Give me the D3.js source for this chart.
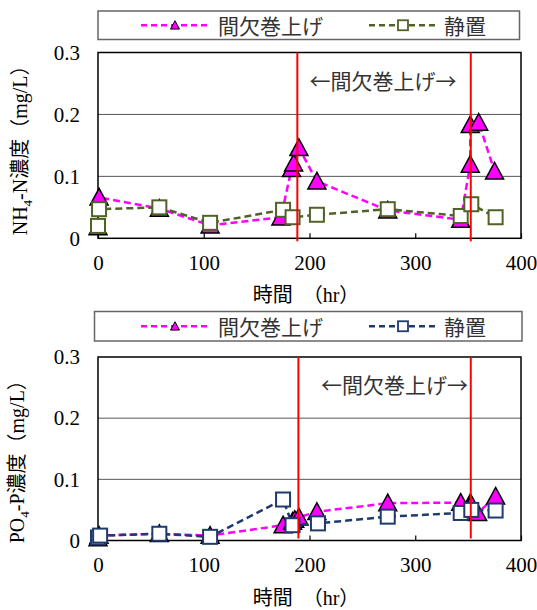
<!DOCTYPE html>
<html lang="ja">
<head>
<meta charset="UTF-8">
<title>NH4-N / PO4-P</title>
<style>
    body { margin: 0; background: #fff; }
    svg { display: block; }
</style>
<script src="https://d3js.org/d3.v7.min.js"></script>
</head>
<body>
<div id="chart"></div>
<script>
// x ticks / y ticks
const xTicks = [0, 100, 200, 300, 400];
const yTicks = [0, 0.1, 0.2, 0.3];

// series names
const seriesNames = ["間欠巻上げ", "静置"];

// NH4-N: [hr, mg/L]
const nhIntermittent = [[0, 0.018], [1, 0.066], [58, 0.048], [106, 0.021], [173, 0.034], [183, 0.112],
    [185, 0.121], [190, 0.146], [207, 0.092], [274, 0.045], [343, 0.030], [352, 0.119],
    [352, 0.183], [360, 0.187], [375, 0.108]];
const nhStill = [[0, 0.020], [1, 0.047], [58, 0.050], [106, 0.025], [175, 0.046], [184, 0.034],
    [207, 0.038], [274, 0.047], [343, 0.036], [353, 0.055], [376, 0.034]];

// PO4-P: [hr, mg/L]
const poIntermittent = [[0, 0.004], [1, 0.008], [58, 0.011], [106, 0.008], [175, 0.025], [184, 0.031],
    [186, 0.034], [190, 0.038], [207, 0.047], [274, 0.061], [343, 0.062], [352, 0.061],
    [353, 0.059], [359, 0.045], [376, 0.072]];
const poStill = [[0, 0.005], [2, 0.008], [58, 0.011], [106, 0.006], [175, 0.067], [184, 0.025],
    [208, 0.028], [274, 0.039], [343, 0.045], [353, 0.050], [376, 0.049]];

// start / end of intermittent winding (hr)
const windingNh = [188.5, 352.5];
const windingPo = [189.5, 352.5];

const SERIF = '"Liberation Serif", "Noto Sans CJK JP", serif';
const GOTHIC = '"Noto Sans CJK JP", sans-serif';

const width = 537, height = 610;
const svg = d3.select("#chart").append("svg")
    .attr("width", width).attr("height", height);

const triPath = s => `M0,${-s}L${s},${s * 0.85}L${-s},${s * 0.85}Z`;

function drawChart(cfg) {
    const g = svg.append("g");
    const x = d3.scaleLinear().domain([0, 400]).range([98, 521]);
    const y = d3.scaleLinear().domain([0, 0.3]).range([cfg.bottom, cfg.top]);

    // legend
    const lg = g.append("g");
    lg.append("rect")
        .attr("x", cfg.legend.x0).attr("y", cfg.legend.y0)
        .attr("width", cfg.legend.x1 - cfg.legend.x0).attr("height", cfg.legend.y1 - cfg.legend.y0)
        .attr("fill", "#fff").attr("stroke", "#666").attr("stroke-width", 1.5);
    const ly = (cfg.legend.y0 + cfg.legend.y1) / 2;
    const items = [
        { x0: 141, x1: 209, m: 175, tx: 218, color: "#ff00ff", name: seriesNames[0], tri: true },
        { x0: 369, x1: 436, m: 403, tx: 444, color: cfg.stillColor, name: seriesNames[1], tri: false }
    ];
    items.forEach(it => {
        lg.append("line").attr("x1", it.x0).attr("x2", it.x1).attr("y1", ly).attr("y2", ly)
            .attr("stroke", it.color).attr("stroke-width", 2.5).attr("stroke-dasharray", "6,4");
        if (it.tri) {
            lg.append("path").attr("d", triPath(4.5))
                .attr("transform", `translate(${it.m},${ly})`)
                .attr("fill", "#ff00ff").attr("stroke", "#000").attr("stroke-width", 1);
        } else {
            lg.append("rect").attr("x", it.m - 5).attr("y", ly - 5).attr("width", 10).attr("height", 10)
                .attr("fill", "#fff").attr("stroke", it.color).attr("stroke-width", 1.8);
        }
        lg.append("text").attr("x", it.tx).attr("y", ly)
            .attr("dominant-baseline", "central")
            .style("font-family", GOTHIC).style("font-size", "21px").style("fill", "#333")
            .text(it.name);
    });

    // gridlines
    g.append("g").selectAll("line").data(yTicks.filter(d => d > 0 && d < 0.3)).join("line")
        .attr("x1", x(0)).attr("x2", x(400)).attr("y1", d => y(d)).attr("y2", d => y(d))
        .attr("stroke", "#555").attr("stroke-width", 1);

    // axes
    const yAxis = g.append("g").attr("transform", `translate(${x(0)},0)`)
        .call(d3.axisLeft(y).tickValues(yTicks).tickFormat(d => d === 0 ? "0" : d.toFixed(1))
            .tickSize(0).tickPadding(18));
    yAxis.select(".domain").remove();
    const xAxis = g.append("g").attr("transform", `translate(0,${y(0)})`)
        .call(d3.axisBottom(x).tickValues(xTicks).tickSizeInner(-5).tickSizeOuter(0).tickPadding(17));
    xAxis.select(".domain").remove();
    xAxis.selectAll(".tick line").attr("stroke", "#000").attr("stroke-width", 1.2);
    [yAxis, xAxis].forEach(a => {
        a.attr("font-family", SERIF).attr("font-size", 21);
        a.selectAll("text").style("font-family", SERIF).style("font-size", "21px").style("fill", "#000");
    });

    // plot frame
    g.append("rect").attr("x", x(0)).attr("y", y(0.3))
        .attr("width", x(400) - x(0)).attr("height", y(0) - y(0.3))
        .attr("fill", "none").attr("stroke", "#000").attr("stroke-width", 1.5);

    // series lines
    const line = d3.line().x(d => x(d[0])).y(d => y(d[1]));
    g.append("path").datum(cfg.intermittent).attr("d", line)
        .attr("fill", "none").attr("stroke", "#ff00ff").attr("stroke-width", 2.5)
        .attr("stroke-dasharray", "7,4");
    g.selectAll(".tri").data(cfg.intermittent).join("path").attr("class", "tri")
        .attr("d", triPath(9))
        .attr("transform", d => `translate(${x(d[0])},${y(d[1])})`)
        .attr("fill", "#ff00ff").attr("stroke", "#000").attr("stroke-width", 1.5);

    g.append("path").datum(cfg.still).attr("d", line)
        .attr("fill", "none").attr("stroke", cfg.stillColor).attr("stroke-width", 2.5)
        .attr("stroke-dasharray", "7,4");
    g.selectAll(".sq").data(cfg.still).join("rect").attr("class", "sq")
        .attr("x", d => x(d[0]) - 7).attr("y", d => y(d[1]) - 7)
        .attr("width", 14).attr("height", 14)
        .attr("fill", "#fff").attr("stroke", cfg.stillColor).attr("stroke-width", 2);

    // winding markers
    g.selectAll(".wind").data(cfg.winding).join("line").attr("class", "wind")
        .attr("x1", d => x(d)).attr("x2", d => x(d))
        .attr("y1", y(0.3)).attr("y2", y(0) + cfg.redExtra)
        .attr("stroke", "#ff0000").attr("stroke-width", 2);

    g.append("text")
        .attr("x", (x(cfg.winding[0]) + x(cfg.winding[1])) / 2 + cfg.noteShift).attr("y", cfg.top + 27)
        .attr("text-anchor", "middle").attr("dominant-baseline", "central")
        .style("font-family", GOTHIC).style("font-size", "21px").style("fill", "#333")
        .text("←" + seriesNames[0] + "→");

    // axis titles
    g.append("text")
        .attr("x", 306).attr("y", y(0) + 64).attr("text-anchor", "middle")
        .style("font-family", SERIF).style("font-size", "20px").style("fill", "#000")
        .text("時間　（hr）");
    const yt = g.append("text")
        .attr("transform", `translate(${cfg.titleX},${(cfg.top + cfg.bottom) / 2 + cfg.titleShift}) rotate(-90)`)
        .attr("text-anchor", "middle")
        .style("font-family", SERIF).style("font-size", "20px").style("fill", "#000");
    yt.append("tspan").text(cfg.label[0]);
    yt.append("tspan").style("font-size", "13px").attr("dy", 5).text("4");
    yt.append("tspan").attr("dy", -5).text(cfg.label[1]);
}

drawChart({
    top: 52.5, bottom: 238.3, redExtra: 3, noteShift: -1, titleX: 27, titleShift: 0,
    legend: { x0: 98, x1: 519.5, y0: 11, y1: 39.5 },
    stillColor: "#4f6228",
    intermittent: nhIntermittent, still: nhStill, winding: windingNh,
    label: ["NH", "-N濃度（mg/L）"]
});

drawChart({
    top: 357, bottom: 540.5, redExtra: -2, noteShift: 10, titleX: 24, titleShift: 8,
    legend: { x0: 94.5, x1: 522, y0: 311.5, y1: 341 },
    stillColor: "#1f3a6e",
    intermittent: poIntermittent, still: poStill, winding: windingPo,
    label: ["PO", "-P濃度（mg/L）"]
});
</script>
</body>
</html>
